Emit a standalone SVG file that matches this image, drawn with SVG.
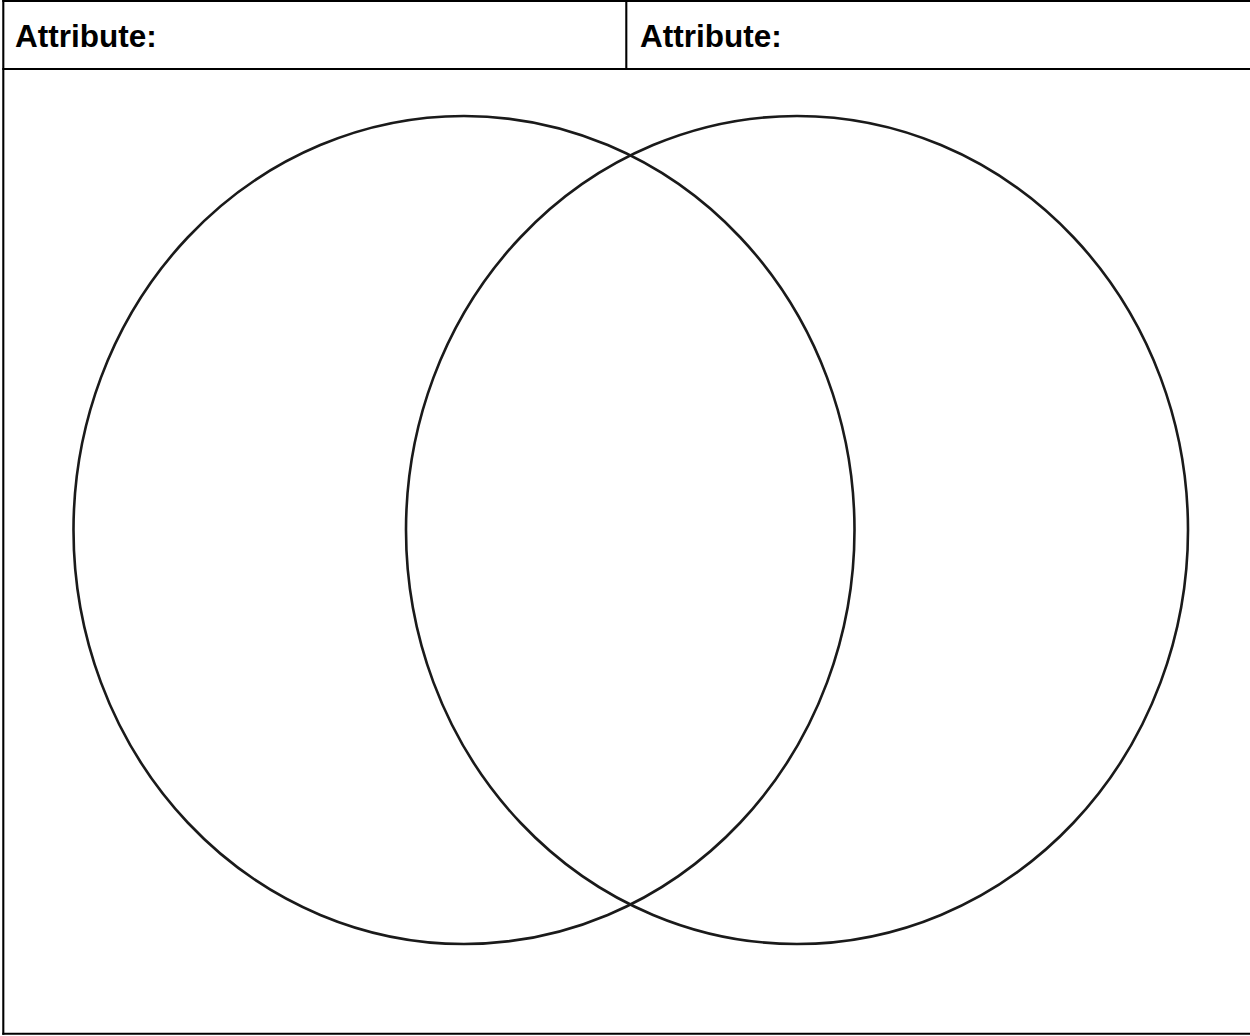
<svg xmlns="http://www.w3.org/2000/svg" width="1250" height="1036" viewBox="0 0 1250 1036">
<style>
.rule{stroke:#000;stroke-width:2.1;fill:none}
.lbl{font-family:"Liberation Sans",Arial,sans-serif;font-weight:bold;font-size:31.5px;fill:#000}
.set{fill:none;stroke:#1a1a1a;stroke-width:2.6}
</style>
<rect width="1250" height="1036" fill="#fff"/>
<g id="table">
<line class="rule" x1="2.3" y1="0.9" x2="1252" y2="0.9"/>
<line class="rule" x1="3.3" y1="0" x2="3.3" y2="1034.7"/>
<line class="rule" x1="2.3" y1="1033.7" x2="1252" y2="1033.7"/>
<line class="rule" x1="2.3" y1="69" x2="1252" y2="69"/>
<line class="rule" x1="626.3" y1="0" x2="626.3" y2="69"/>
</g>
<g id="header-left"><text class="lbl" x="15" y="46.5">Attribute:</text></g>
<g id="header-right"><text class="lbl" x="640" y="46.5">Attribute:</text></g>
<g id="set-left"><ellipse class="set" cx="464" cy="530" rx="390.5" ry="414"/></g>
<g id="set-right"><ellipse class="set" cx="797" cy="530" rx="391" ry="414"/></g>
<g id="connectors"></g>
</svg>
